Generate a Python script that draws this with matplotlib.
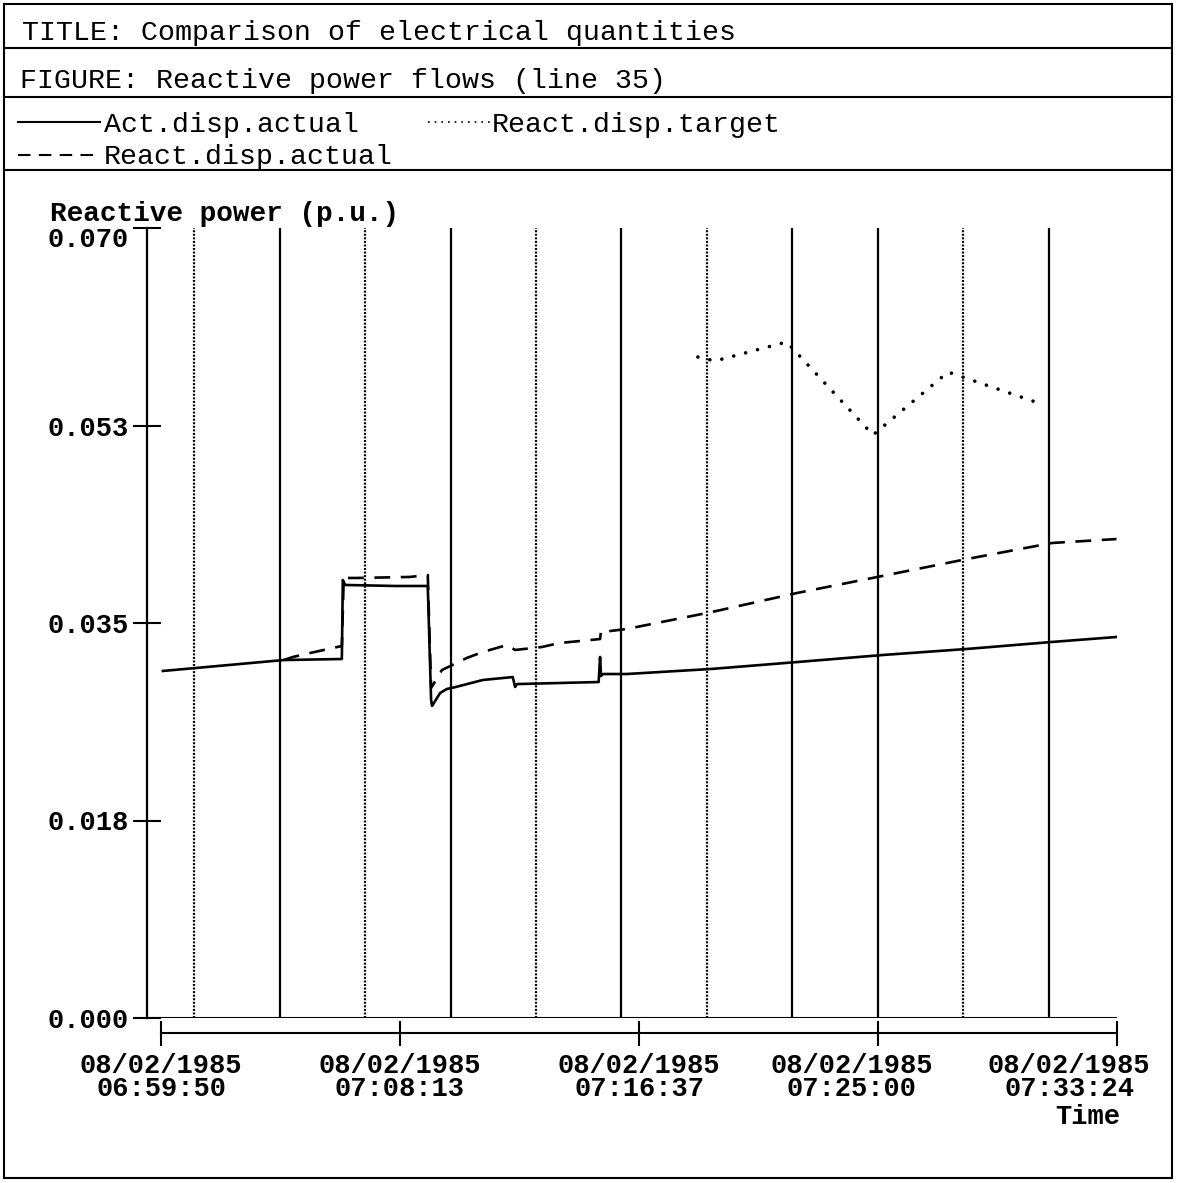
import matplotlib
matplotlib.use("Agg")
import matplotlib.pyplot as plt
from matplotlib.lines import Line2D
from matplotlib.transforms import ScaledTranslation

# ---- data ----
T0 = "06:59:50"

act_time = ["06:59:54", "07:04:09", "07:06:11", "07:06:13", "07:06:18", "07:08:03",
            "07:09:12", "07:09:19", "07:09:21", "07:09:38", "07:09:52", "07:10:11",
            "07:11:08", "07:12:11", "07:12:16", "07:12:20", "07:15:12", "07:15:15",
            "07:15:17", "07:15:21", "07:16:11", "07:19:10", "07:22:10", "07:25:09",
            "07:28:08", "07:31:07", "07:33:23"]
act_val = [0.03075, 0.03172, 0.03181, 0.03881, 0.03837, 0.03828,
           0.03828, 0.02818, 0.02765, 0.02880, 0.02915, 0.02933,
           0.02995, 0.03021, 0.02933, 0.02959, 0.02977, 0.03199,
           0.03030, 0.03048, 0.03048, 0.03093, 0.03154, 0.03216,
           0.03270, 0.03332, 0.03376]

react_time = ["07:04:09", "07:04:28", "07:05:04", "07:06:01", "07:06:11", "07:06:15",
              "07:06:43", "07:08:34", "07:09:12", "07:09:19", "07:09:42", "07:10:13",
              "07:10:34", "07:11:08", "07:11:59", "07:12:16", "07:13:12", "07:13:50",
              "07:14:54", "07:15:15", "07:15:17", "07:15:19", "07:16:11", "07:19:10",
              "07:22:10", "07:25:09", "07:28:08", "07:31:07", "07:33:23"]
react_val = [0.03172, 0.03199, 0.03234, 0.03287, 0.03296, 0.03899,
             0.03899, 0.03908, 0.03925, 0.02924, 0.03084, 0.03146,
             0.03190, 0.03243, 0.03305, 0.03261, 0.03287, 0.03323,
             0.03349, 0.03358, 0.03429, 0.03420, 0.03447, 0.03597,
             0.03766, 0.03916, 0.04067, 0.04209, 0.04244]

target_time = ["07:18:41", "07:19:17", "07:21:48", "07:24:50", "07:27:28", "07:30:39"]
target_val = [0.05857, 0.05822, 0.05990, 0.05166, 0.05724, 0.05449]

ytick_vals = [0.0, 0.0175, 0.035, 0.0525, 0.070]
ytick_labels = ["0.000", "0.018", "0.035", "0.053", "0.070"]
xtick_times = ["06:59:50", "07:08:13", "07:16:37", "07:25:00", "07:33:24"]
xtick_date = "08/02/1985"

grid_times = ["07:01:00", "07:04:00", "07:07:00", "07:10:00", "07:13:00", "07:16:00",
              "07:19:00", "07:22:00", "07:25:00", "07:28:00", "07:31:00"]
grid_dotted = [True, False, True, False, True, False, True, False, False, True, False]


def secs(hms):
    h, m, s = map(int, hms.split(":"))
    h0, m0, s0 = map(int, T0.split(":"))
    return (h * 3600 + m * 60 + s) - (h0 * 3600 + m0 * 60 + s0)


W, H = 1177, 1183
FONT = "Liberation Mono"
FS = 19.5      # axis texts
FS_HEAD = 20.3  # header box texts
plt.rcParams["font.family"] = [FONT, "DejaVu Sans Mono"]


def fx(x):
    return x / W


def fy(y):
    return 1 - y / H


fig = plt.figure(figsize=(W / 100, H / 100), dpi=100)

# plot area in pixel coords: x 147..1117, y 228..1018
ax = fig.add_axes([fx(147), fy(1018), (1117 - 147) / W, (1018 - 228) / H])
ax.set_xlim(-29.5, 2014)
ax.set_ylim(0, 0.070)

for gt, dotted in zip(grid_times, grid_dotted):
    if dotted:
        ax.axvline(secs(gt), color="black", lw=1.6, ls=(0, (0.9, 0.7)))
    else:
        ax.axvline(secs(gt), color="black", lw=1.6)
ax.axhline(0, color="black", lw=1.5)

ax.plot([secs(t) for t in act_time], act_val, color="black", lw=1.9)
ax.plot([secs(t) for t in react_time], react_val, color="black", lw=1.9,
        ls=(0, (6, 4)))
ax.plot([secs(t) for t in target_time], target_val, color="black", lw=2.6,
        ls=(0, (0.01, 3.4)), dash_capstyle="round")

for s in ["top", "right"]:
    ax.spines[s].set_visible(False)
ax.spines["left"].set_linewidth(1.6)
ax.spines["bottom"].set_linewidth(1.5)
ax.spines["bottom"].set_position(("outward", 11))
ax.spines["bottom"].set_bounds(0, 2014)

ax.set_yticks(ytick_vals)
ax.set_yticklabels(ytick_labels, fontsize=FS, fontweight="bold", family=FONT)
ax.tick_params(axis="y", direction="inout", length=20, width=1.5, pad=3)
# top label sits a little below its tick, clear of the axis title
top_lab = ax.get_yticklabels()[-1]
top_lab.set_transform(top_lab.get_transform() +
                      ScaledTranslation(0, -0.09, fig.dpi_scale_trans))

ax.set_xticks([secs(t) for t in xtick_times])
ax.set_xticklabels([xtick_date + "\n" + t for t in xtick_times], fontsize=FS,
                   fontweight="bold", family=FONT, linespacing=0.86)
ax.tick_params(axis="x", direction="inout", length=18, width=1.5, pad=5)
# last two labels are pushed left so they stay inside the frame
for lab, dx in zip(ax.get_xticklabels()[3:], [-0.26, -0.48]):
    lab.set_transform(lab.get_transform() + ScaledTranslation(dx, 0, fig.dpi_scale_trans))

fig.text(fx(50), fy(214), "Reactive power (p.u.)", fontsize=20, fontweight="bold",
         ha="left", va="center", family=FONT)
fig.text(fx(1120), fy(1117), "Time", fontsize=FS, fontweight="bold",
         ha="right", va="center", family=FONT)

# header frame
for x0, y0, x1, y1 in [(4, 4, 1172, 4), (4, 1178, 1172, 1178), (4, 4, 4, 1178),
                       (1172, 4, 1172, 1178), (4, 48, 1172, 48), (4, 97, 1172, 97),
                       (4, 170, 1172, 170)]:
    fig.add_artist(Line2D([fx(x0), fx(x1)], [fy(y0), fy(y1)], color="black", lw=1.5))

fig.text(fx(22), fy(33), "TITLE: Comparison of electrical quantities",
         fontsize=FS_HEAD, ha="left", va="center", family=FONT)
fig.text(fx(20), fy(81), "FIGURE: Reactive power flows (line 35)",
         fontsize=FS_HEAD, ha="left", va="center", family=FONT)

# legend samples
fig.add_artist(Line2D([fx(18), fx(100)], [fy(122), fy(122)], color="black", lw=1.5))
fig.add_artist(Line2D([fx(428), fx(490)], [fy(122), fy(122)], color="black", lw=1.2,
                      ls=(0, (1, 3))))
fig.add_artist(Line2D([fx(18), fx(100)], [fy(155), fy(155)], color="black", lw=1.5,
                      ls=(0, (6, 4))))
fig.text(fx(104), fy(125), "Act.disp.actual", fontsize=FS_HEAD, ha="left", va="center",
         family=FONT)
fig.text(fx(492), fy(125), "React.disp.target", fontsize=FS_HEAD, ha="left",
         va="center", family=FONT)
fig.text(fx(104), fy(157), "React.disp.actual", fontsize=FS_HEAD, ha="left",
         va="center", family=FONT)

fig.savefig("out.png", dpi=100)
